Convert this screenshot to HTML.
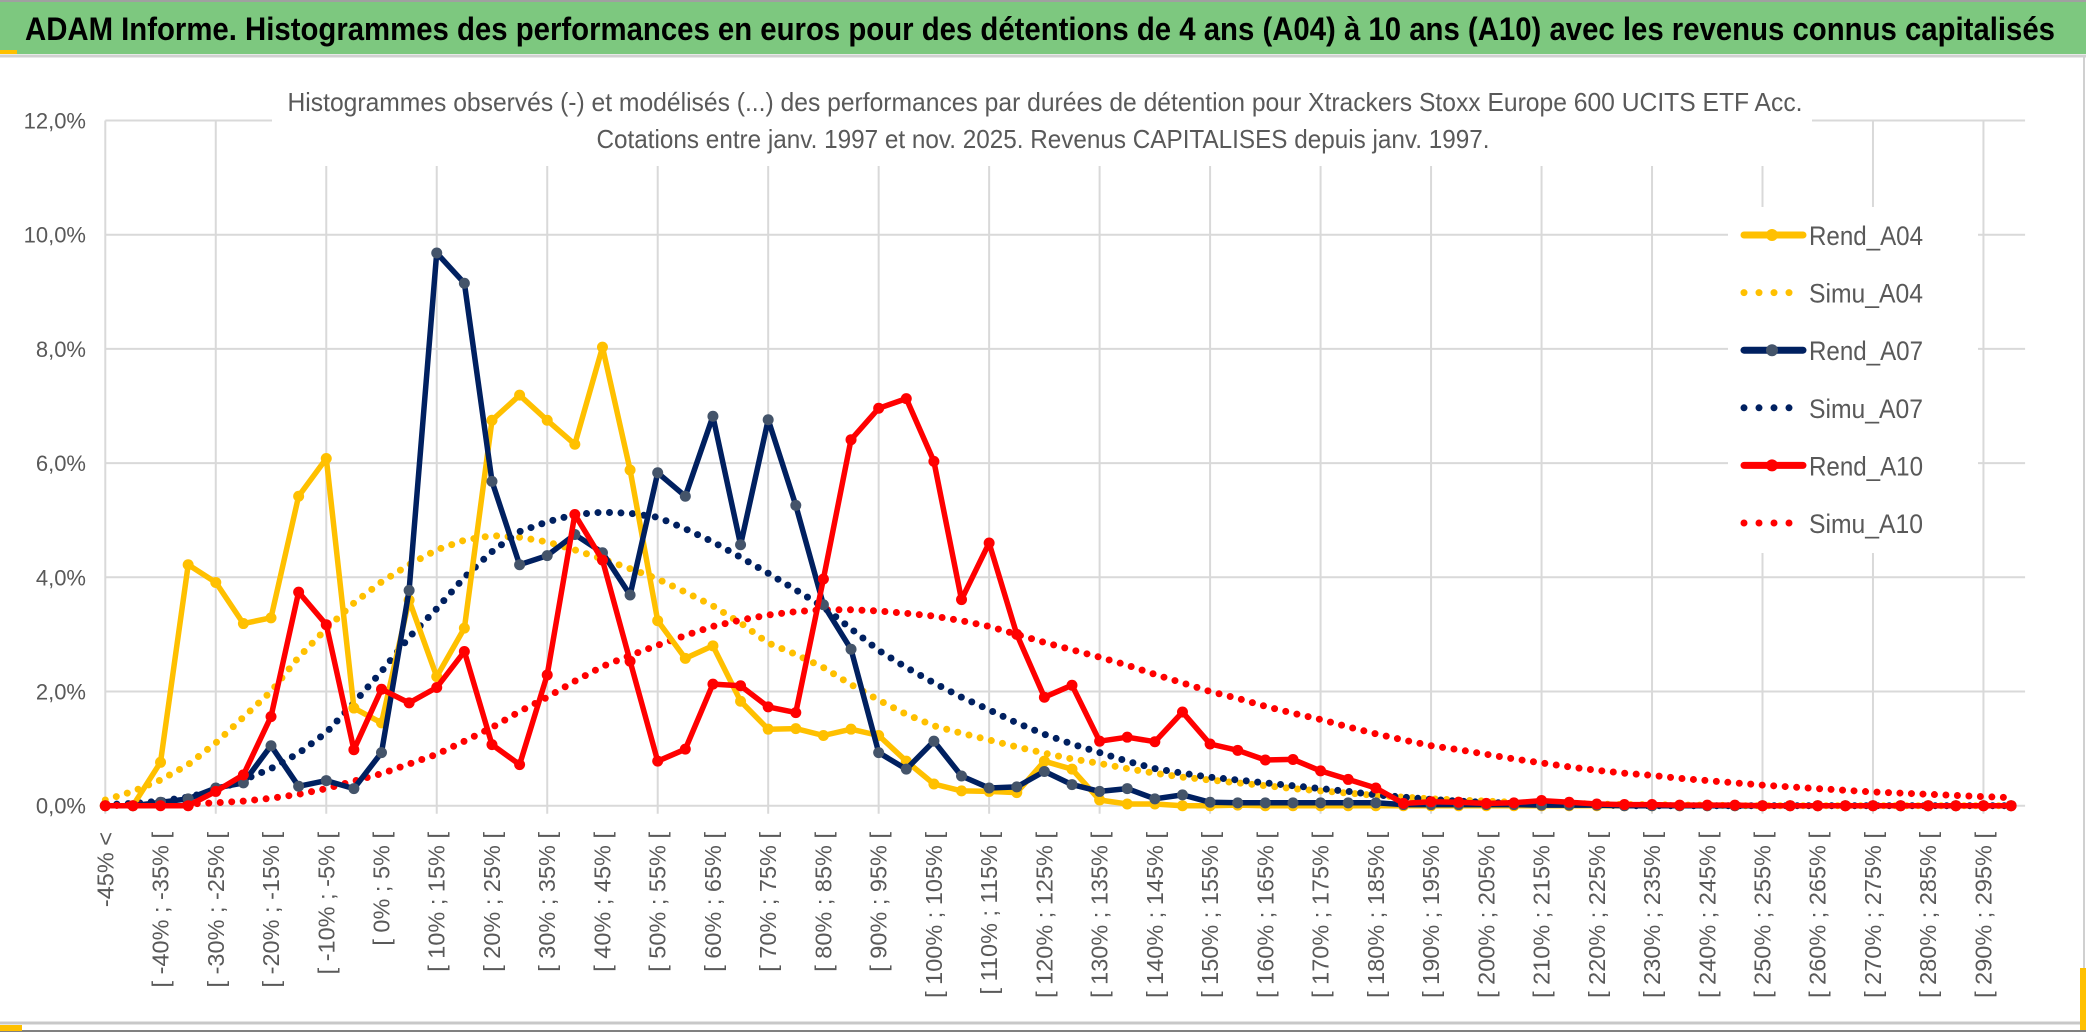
<!DOCTYPE html>
<html><head><meta charset="utf-8">
<style>
html,body{margin:0;padding:0;background:#fff;}
svg{display:block;}
</style></head>
<body>
<svg id="chart" width="2086" height="1033" xmlns="http://www.w3.org/2000/svg" font-family="'Liberation Sans Narrow','Liberation Sans',sans-serif">
<rect x="0" y="0" width="2086" height="1033" fill="#fff"/>
<rect x="0" y="2" width="2086" height="52" fill="#7DC87F"/>
<line x1="0" y1="1" x2="2086" y2="1" stroke="#A0A0A0" stroke-width="2"/>
<line x1="0" y1="56" x2="2086" y2="56" stroke="#D0D0D0" stroke-width="3"/>
<rect x="0" y="50" width="17" height="4" fill="#FFC000"/>
<text x="25" y="40" font-size="32" font-weight="bold" fill="#000" textLength="2030" lengthAdjust="spacingAndGlyphs">ADAM Informe. Histogrammes des performances en euros pour des détentions de 4 ans (A04) à 10 ans (A10) avec les revenus connus capitalisés</text>
<line x1="0" y1="1023" x2="2086" y2="1023" stroke="#C8C8C8" stroke-width="3"/>
<line x1="0" y1="1031" x2="2086" y2="1031" stroke="#808080" stroke-width="2"/>
<rect x="0" y="1025" width="22" height="6" fill="#FFC000"/>
<rect x="2080" y="968" width="6" height="62" fill="#FFC000"/>
<line x1="2084" y1="56" x2="2084" y2="968" stroke="#D0D0D0" stroke-width="2"/>
<g id="grid"></g>
<g id="yaxis"></g>
<g id="xaxis"></g>
<rect x="272" y="78" width="1540" height="88" fill="#fff"/>
<text x="1045" y="111" font-size="26" fill="#595959" text-anchor="middle" textLength="1515" lengthAdjust="spacingAndGlyphs">Histogrammes observés (-) et modélisés (...) des performances par durées de détention pour Xtrackers Stoxx Europe 600 UCITS ETF Acc.</text>
<text x="1043" y="148" font-size="26" fill="#595959" text-anchor="middle" textLength="893" lengthAdjust="spacingAndGlyphs">Cotations entre janv. 1997 et nov. 2025. Revenus CAPITALISES depuis janv. 1997.</text>
<g id="series"></g>
<g id="legend"></g>
</svg>
<script>
const categories = (function(){
  const c = ["-45% <"];
  for (let k = -45; k < 300; k += 5) c.push("[ " + k + "% ; " + (k+5) + "% [");
  return c;
})();
const yTicks = [0, 2, 4, 6, 8, 10, 12];
const yTickLabels = ["0,0%","2,0%","4,0%","6,0%","8,0%","10,0%","12,0%"];
const rendA04 = [0,0,0.76,4.22,3.91,3.19,3.29,5.42,6.08,1.71,1.45,3.6,2.26,3.11,6.75,7.19,6.75,6.33,8.03,5.88,3.24,2.58,2.8,1.83,1.34,1.35,1.23,1.34,1.23,0.78,0.38,0.26,0.25,0.23,0.78,0.64,0.1,0.03,0.03,0,0,0.01,0,0,0,0,0,0,0,0,0,0,0,0,0,0,0,0,0,0,0,0,0,0,0,0,0,0,0,0];
const simuA04 = [0.1,0.25,0.45,0.72,1.1,1.55,2.0,2.6,3.1,3.55,3.92,4.22,4.48,4.65,4.73,4.7,4.62,4.48,4.32,4.15,3.97,3.74,3.5,3.2,2.85,2.65,2.42,2.12,1.85,1.6,1.4,1.27,1.15,1.03,0.92,0.82,0.74,0.65,0.57,0.5,0.45,0.4,0.35,0.3,0.26,0.22,0.18,0.15,0.12,0.1,0.08,0.06,0.05,0.04,0.03,0.02,0.02,0.01,0.01,0,0,0,0,0,0,0,0,0,0,0];
const rendA07 = [0,0,0.06,0.12,0.31,0.4,1.05,0.34,0.44,0.3,0.93,3.77,9.68,9.15,5.68,4.22,4.38,4.75,4.43,3.69,5.83,5.42,6.82,4.57,6.76,5.26,3.52,2.74,0.93,0.64,1.13,0.52,0.31,0.33,0.6,0.37,0.25,0.3,0.12,0.19,0.06,0.05,0.05,0.05,0.05,0.05,0.05,0.02,0.02,0.02,0.02,0.02,0.01,0.01,0.01,0,0,0,0,0,0,0,0,0,0,0,0,0,0,0];
const simuA07 = [0.02,0.04,0.08,0.15,0.27,0.45,0.65,0.92,1.28,1.8,2.35,2.95,3.45,4.0,4.45,4.8,4.97,5.1,5.14,5.12,5.05,4.85,4.62,4.35,4.07,3.78,3.48,3.1,2.72,2.42,2.15,1.9,1.68,1.45,1.25,1.08,0.93,0.78,0.65,0.57,0.5,0.45,0.4,0.35,0.3,0.25,0.19,0.15,0.11,0.08,0.06,0.04,0.03,0.02,0.01,0,0,0,0,0,0,0,0,0,0,0,0,0,0,0];
const rendA10 = [0,0,0,0,0.25,0.54,1.56,3.74,3.17,0.98,2.04,1.8,2.07,2.7,1.07,0.72,2.29,5.1,4.3,2.53,0.78,0.99,2.13,2.1,1.73,1.63,3.97,6.41,6.96,7.13,6.03,3.61,4.6,3.0,1.9,2.11,1.13,1.2,1.12,1.64,1.08,0.97,0.8,0.81,0.61,0.46,0.31,0.04,0.07,0.06,0.04,0.05,0.09,0.06,0.03,0.02,0.02,0.01,0.01,0.01,0,0,0,0,0,0,0,0,0,0];
const simuA10 = [0,0.01,0.02,0.03,0.05,0.08,0.13,0.2,0.3,0.43,0.56,0.73,0.9,1.13,1.37,1.65,1.9,2.18,2.44,2.63,2.81,2.98,3.14,3.25,3.34,3.4,3.43,3.43,3.41,3.37,3.32,3.24,3.14,3.0,2.86,2.73,2.6,2.46,2.3,2.15,2.0,1.88,1.74,1.62,1.51,1.38,1.26,1.15,1.05,0.98,0.9,0.82,0.75,0.68,0.62,0.57,0.53,0.48,0.44,0.4,0.36,0.33,0.3,0.27,0.24,0.22,0.2,0.18,0.16,0.14];

const NS = "http://www.w3.org/2000/svg";
const X0 = 105.3, PITCH = 27.62, Y0 = 805.7, YPER = 57.1;
function xPos(i){ return X0 + i*PITCH; }
function yPos(v){ return Y0 - v*YPER; }
function mk(tag, attrs, parent){
  const e = document.createElementNS(NS, tag);
  for (const k in attrs) e.setAttribute(k, attrs[k]);
  parent.appendChild(e);
  return e;
}
const grid = document.getElementById('grid');
const yaxis = document.getElementById('yaxis');
const xaxis = document.getElementById('xaxis');
const seriesG = document.getElementById('series');
const legendG = document.getElementById('legend');
const xEnd = xPos(categories.length - 1);

yTicks.forEach((t, k) => {
  const gl = mk('line', {x1: X0, x2: xEnd + 14, y1: yPos(t), y2: yPos(t), stroke: '#D9D9D9', 'stroke-width': 2}, grid);
  
  
  const lb = mk('text', {x: 86, y: yPos(t) + 8, 'font-size': 22, fill: '#595959', 'text-anchor': 'end'}, yaxis);
  lb.textContent = yTickLabels[k];
  
  
});
for (let i = 0; i < categories.length; i += 4) {
  const gl = mk('line', {x1: xPos(i), x2: xPos(i), y1: yPos(12), y2: Y0 + 8, stroke: '#D9D9D9', 'stroke-width': 2}, grid);
  
  
}
for (let i = 0; i < categories.length; i += 2) {
  const x = xPos(i) + 8;
  const t = mk('text', {x: x, y: 832, 'font-size': 23.5, fill: '#595959', 'text-anchor': 'end', transform: 'rotate(-90 ' + x + ' 832)'}, xaxis);
  t.textContent = categories[i];
  
  
}

const seriesDefs = [
  {name: 'Simu_A04', data: simuA04, color: '#FFC000', dotted: true},
  {name: 'Simu_A07', data: simuA07, color: '#002060', dotted: true},
  {name: 'Simu_A10', data: simuA10, color: '#FF0000', dotted: true},
  {name: 'Rend_A04', data: rendA04, color: '#FFC000', marker: '#FFC000'},
  {name: 'Rend_A07', data: rendA07, color: '#002060', marker: '#44546A'},
  {name: 'Rend_A10', data: rendA10, color: '#FF0000', marker: '#FF0000'}
];
seriesDefs.forEach(s => {
  const pts = s.data.map((v, i) => xPos(i).toFixed(1) + ',' + yPos(v).toFixed(1)).join(' ');
  const g = mk('g', {}, seriesG);
  
  
  if (s.dotted) {
    const pl = mk('polyline', {points: pts, fill: 'none', stroke: s.color, 'stroke-width': 7, 'stroke-linecap': 'round', 'stroke-dasharray': '0 11.5'}, g);
    
    
  } else {
    const pl = mk('polyline', {points: pts, fill: 'none', stroke: s.color, 'stroke-width': 5.5, 'stroke-linejoin': 'round'}, g);
    
    
    s.data.forEach((v, i) => {
      const c = mk('circle', {cx: xPos(i), cy: yPos(v), r: 5.5, fill: s.marker}, g);
      
      
    });
  }
});

const legendBox = mk('rect', {x: 1728, y: 207, width: 250, height: 346, fill: '#fff'}, legendG);


const legendOrder = ['Rend_A04','Simu_A04','Rend_A07','Simu_A07','Rend_A10','Simu_A10'];
legendOrder.forEach((nm, k) => {
  const s = seriesDefs.find(d => d.name === nm);
  const y = 235 + k*57.6;
  const g = mk('g', {}, legendG);
  
  
  if (s.dotted) {
    mk('line', {x1: 1744, x2: 1800, y1: y, y2: y, stroke: s.color, 'stroke-width': 7, 'stroke-linecap': 'round', 'stroke-dasharray': '0 15'}, g);
  } else {
    mk('line', {x1: 1744, x2: 1803, y1: y, y2: y, stroke: s.color, 'stroke-width': 7, 'stroke-linecap': 'round'}, g);
    mk('circle', {cx: 1772, cy: y, r: 6, fill: s.marker}, g);
  }
  const t = mk('text', {x: 1809, y: y + 10, 'font-size': 27, fill: '#595959', textLength: 114, lengthAdjust: 'spacingAndGlyphs'}, g);
  t.textContent = nm;
});
</script>
</body></html>
